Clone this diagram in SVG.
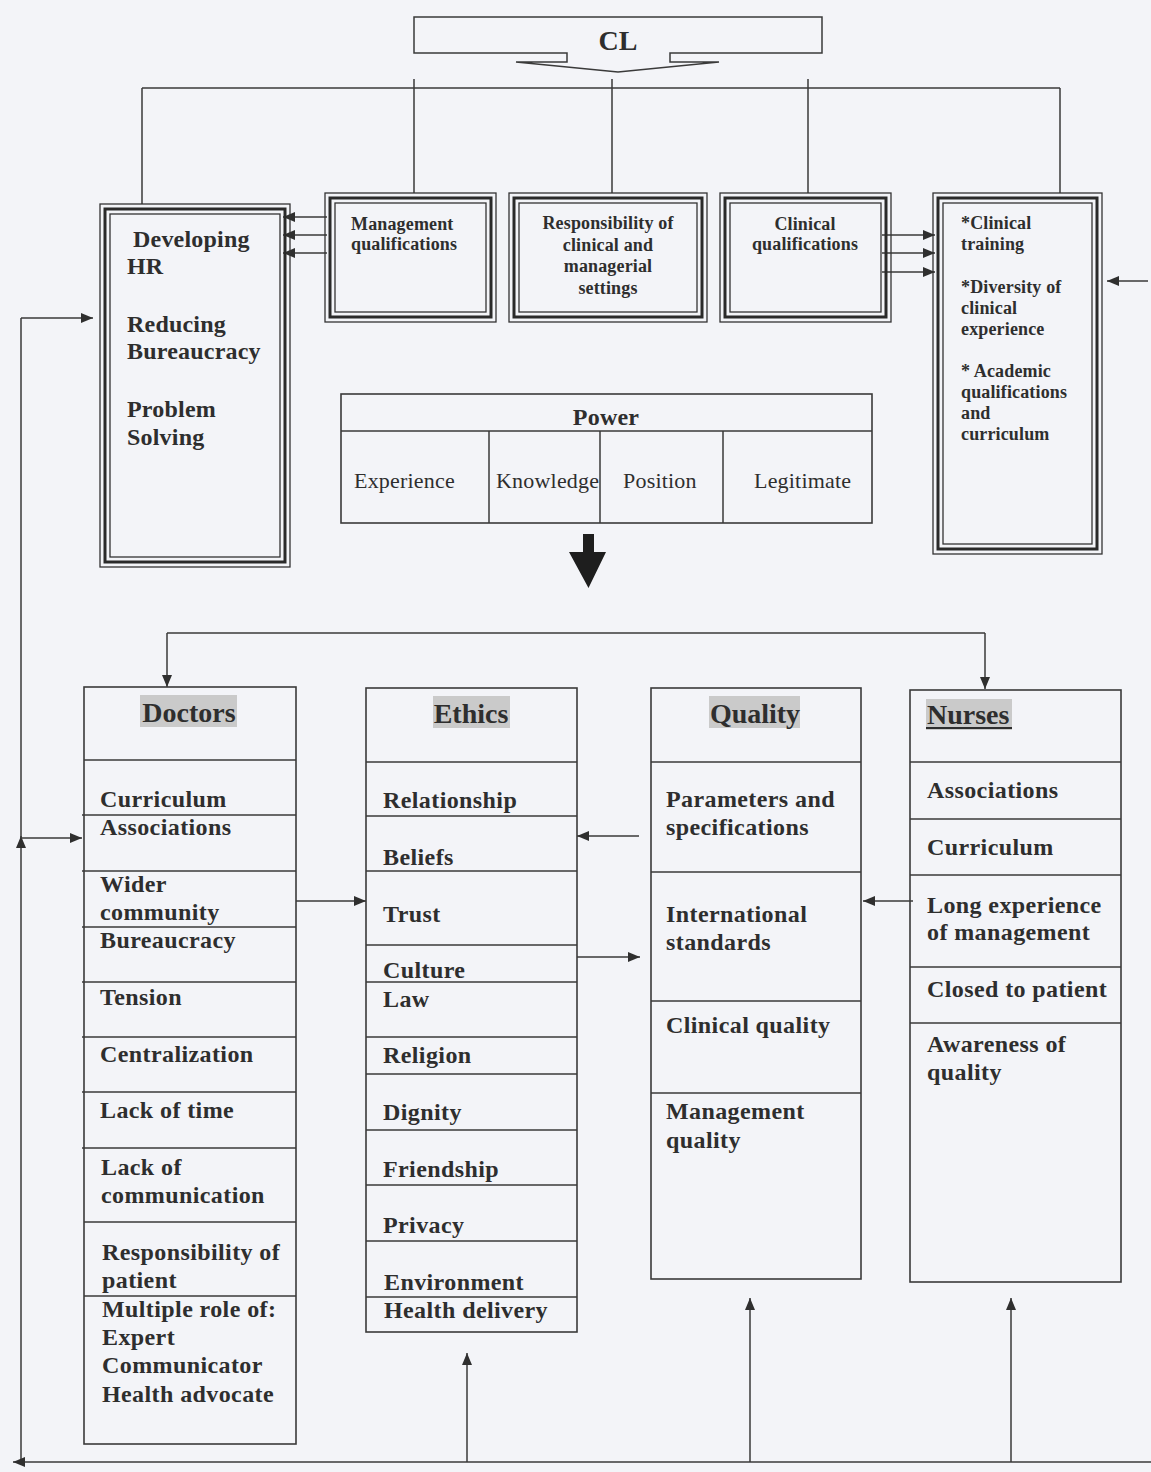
<svg xmlns="http://www.w3.org/2000/svg" width="1151" height="1472" viewBox="0 0 1151 1472">
<defs>
<marker id="ah" viewBox="0 0 12 10" refX="12" refY="5" markerWidth="12" markerHeight="10" markerUnits="userSpaceOnUse" orient="auto"><path d="M0,0 L12,5 L0,10 z" fill="#2f2f2f"/></marker>
<style>
.bg{fill:#f3f4f8}
.b1{fill:none;stroke:#333;stroke-width:1.3}
.b3{fill:none;stroke:#2a2a2a;stroke-width:3}
.box{fill:none;stroke:#3a3a3a;stroke-width:1.6}
.ln{fill:none;stroke:#3a3a3a;stroke-width:1.5}
.con{fill:none;stroke:#3a3a3a;stroke-width:1.5}
.arr{fill:none;stroke:#3a3a3a;stroke-width:1.5;marker-end:url(#ah)}
.hl{fill:#cacaca}
text{font-family:"Liberation Serif","Times New Roman",serif;fill:#2e2e2e}
.t24{font-size:24px;font-weight:bold;letter-spacing:0.2px}
.t23{font-size:24px;font-weight:bold;letter-spacing:0.4px}
.t18{font-size:18px;font-weight:bold;letter-spacing:0.15px}
.t22r{font-size:22px;letter-spacing:0.2px}
.hd{font-size:28px;font-weight:bold}
.mid{text-anchor:middle}
</style>
</defs>
<rect class="bg" x="0" y="0" width="1151" height="1472"/>

<g id="connectors">
<line class="con" x1="142" y1="88" x2="1060" y2="88"/>
<line class="con" x1="142" y1="88" x2="142" y2="204"/>
<line class="con" x1="414" y1="79" x2="414" y2="193"/>
<line class="con" x1="612" y1="79" x2="612" y2="193"/>
<line class="con" x1="808" y1="79" x2="808" y2="193"/>
<line class="con" x1="1060" y1="88" x2="1060" y2="193"/>
<line class="arr" x1="327" y1="217" x2="283" y2="217"/>
<line class="arr" x1="327" y1="235" x2="283" y2="235"/>
<line class="arr" x1="327" y1="253" x2="283" y2="253"/>
<line class="arr" x1="882" y1="235" x2="935" y2="235"/>
<line class="arr" x1="882" y1="253" x2="935" y2="253"/>
<line class="arr" x1="882" y1="272" x2="935" y2="272"/>
<line class="arr" x1="1148" y1="281" x2="1107" y2="281"/>
<path d="M583,534 L594,534 L594,552 L606,552 L588.5,588 L569,552 L583,552 Z" fill="#1e1e1e"/>
<polyline class="con" points="167,633 985,633"/>
<line class="arr" x1="167" y1="633" x2="167" y2="687"/>
<line class="arr" x1="985" y1="633" x2="985" y2="689"/>
<line class="arr" x1="21" y1="1462" x2="21" y2="836"/>
<polyline class="con" points="21,838 21,318"/>
<line class="arr" x1="21" y1="318" x2="93" y2="318"/>
<line class="arr" x1="21" y1="838" x2="82" y2="838"/>
<line class="arr" x1="1151" y1="1462" x2="13" y2="1462"/>
<line class="arr" x1="467" y1="1462" x2="467" y2="1353"/>
<line class="arr" x1="750" y1="1462" x2="750" y2="1298"/>
<line class="arr" x1="1011" y1="1462" x2="1011" y2="1298"/>
<line class="arr" x1="296" y1="901" x2="366" y2="901"/>
<line class="arr" x1="639" y1="836" x2="577" y2="836"/>
<line class="arr" x1="577" y1="957" x2="640" y2="957"/>
<line class="arr" x1="913" y1="901" x2="863" y2="901"/>
</g>

<g id="cl">
<path class="ln" d="M414,17 L822,17 L822,53 L670,53 L670,62 L719,62 L618,72 L516,62 L567,62 L567,53 L414,53 Z"/>
<text class="mid" x="618" y="50" style="font-size:28px;font-weight:bold">CL</text>
</g>

<g id="hr">
<rect class="b1" x="100" y="204" width="190" height="363"/>
<rect class="b3" x="105" y="209" width="180" height="353"/>
<rect class="b1" x="110" y="214" width="170" height="343"/>
<text class="t24" x="133" y="247">Developing</text>
<text class="t24" x="127" y="274">HR</text>
<text class="t24" x="127" y="332">Reducing</text>
<text class="t24" x="127" y="359">Bureaucracy</text>
<text class="t24" x="127" y="417">Problem</text>
<text class="t24" x="127" y="445">Solving</text>
</g>

<g id="management">
<rect class="b1" x="325" y="193" width="171" height="129"/>
<rect class="b3" x="330" y="198" width="161" height="119"/>
<rect class="b1" x="335" y="203" width="151" height="109"/>
<text class="t18" x="351" y="230">Management</text>
<text class="t18" x="351" y="250">qualifications</text>
</g>

<g id="responsibility">
<rect class="b1" x="509" y="193" width="198" height="129"/>
<rect class="b3" x="514" y="198" width="188" height="119"/>
<rect class="b1" x="519" y="203" width="178" height="109"/>
<text class="t18 mid" x="608" y="229">Responsibility of</text>
<text class="t18 mid" x="608" y="251">clinical and</text>
<text class="t18 mid" x="608" y="272">managerial</text>
<text class="t18 mid" x="608" y="294">settings</text>
</g>

<g id="clinical">
<rect class="b1" x="720" y="193" width="171" height="129"/>
<rect class="b3" x="725" y="198" width="161" height="119"/>
<rect class="b1" x="730" y="203" width="151" height="109"/>
<text class="t18 mid" x="805" y="230">Clinical</text>
<text class="t18 mid" x="805" y="250">qualifications</text>
</g>

<g id="training">
<rect class="b1" x="933" y="193" width="169" height="361"/>
<rect class="b3" x="938" y="198" width="159" height="351"/>
<rect class="b1" x="943" y="203" width="149" height="341"/>
<text class="t18" x="961" y="229">*Clinical</text>
<text class="t18" x="961" y="250">training</text>
<text class="t18" x="961" y="293">*Diversity of</text>
<text class="t18" x="961" y="314">clinical</text>
<text class="t18" x="961" y="335">experience</text>
<text class="t18" x="961" y="377">* Academic</text>
<text class="t18" x="961" y="398">qualifications</text>
<text class="t18" x="961" y="419">and</text>
<text class="t18" x="961" y="440">curriculum</text>
</g>

<g id="power">
<rect class="box" x="341" y="394" width="531" height="129"/>
<line class="ln" x1="341" y1="431" x2="872" y2="431"/>
<line class="ln" x1="489" y1="431" x2="489" y2="523"/>
<line class="ln" x1="600" y1="431" x2="600" y2="523"/>
<line class="ln" x1="723" y1="431" x2="723" y2="523"/>
<text class="t24 mid" x="606" y="425">Power</text>
<text class="t22r" x="354" y="488">Experience</text>
<text class="t22r" x="496" y="488">Knowledge</text>
<text class="t22r" x="623" y="488">Position</text>
<text class="t22r" x="754" y="488">Legitimate</text>
</g>

<g id="doctors">
<rect class="box" x="84" y="687" width="212" height="757"/>
<line class="ln" x1="84" y1="760" x2="296" y2="760"/>
<line class="ln" x1="82" y1="815" x2="296" y2="815"/>
<line class="ln" x1="82" y1="871" x2="296" y2="871"/>
<line class="ln" x1="82" y1="927" x2="296" y2="927"/>
<line class="ln" x1="82" y1="982" x2="296" y2="982"/>
<line class="ln" x1="82" y1="1037" x2="296" y2="1037"/>
<line class="ln" x1="82" y1="1092" x2="296" y2="1092"/>
<line class="ln" x1="82" y1="1148" x2="296" y2="1148"/>
<line class="ln" x1="84" y1="1222" x2="296" y2="1222"/>
<line class="ln" x1="84" y1="1296" x2="296" y2="1296"/>
<rect class="hl" x="140" y="695" width="97" height="32"/>
<text class="hd mid" x="189" y="722">Doctors</text>
<text class="t23" x="100" y="807">Curriculum</text>
<text class="t23" x="100" y="835">Associations</text>
<text class="t23" x="100" y="892">Wider</text>
<text class="t23" x="100" y="920">community</text>
<text class="t23" x="100" y="948">Bureaucracy</text>
<text class="t23" x="100" y="1005">Tension</text>
<text class="t23" x="100" y="1062">Centralization</text>
<text class="t23" x="100" y="1118">Lack of time</text>
<text class="t23" x="101" y="1175">Lack of</text>
<text class="t23" x="101" y="1203">communication</text>
<text class="t23" x="102" y="1260">Responsibility of</text>
<text class="t23" x="102" y="1288">patient</text>
<text class="t23" x="102" y="1317">Multiple role of:</text>
<text class="t23" x="102" y="1345">Expert</text>
<text class="t23" x="102" y="1373">Communicator</text>
<text class="t23" x="102" y="1402">Health advocate</text>
</g>

<g id="ethics">
<rect class="box" x="366" y="688" width="211" height="644"/>
<line class="ln" x1="366" y1="762" x2="577" y2="762"/>
<line class="ln" x1="366" y1="816" x2="577" y2="816"/>
<line class="ln" x1="366" y1="871" x2="577" y2="871"/>
<line class="ln" x1="366" y1="945" x2="577" y2="945"/>
<line class="ln" x1="366" y1="982" x2="577" y2="982"/>
<line class="ln" x1="366" y1="1037" x2="577" y2="1037"/>
<line class="ln" x1="366" y1="1074" x2="577" y2="1074"/>
<line class="ln" x1="366" y1="1130" x2="577" y2="1130"/>
<line class="ln" x1="366" y1="1185" x2="577" y2="1185"/>
<line class="ln" x1="366" y1="1241" x2="577" y2="1241"/>
<line class="ln" x1="366" y1="1297" x2="577" y2="1297"/>
<rect class="hl" x="433" y="696" width="77" height="32"/>
<text class="hd mid" x="471" y="723">Ethics</text>
<text class="t23" x="383" y="808">Relationship</text>
<text class="t23" x="383" y="865">Beliefs</text>
<text class="t23" x="383" y="922">Trust</text>
<text class="t23" x="383" y="978">Culture</text>
<text class="t23" x="383" y="1007">Law</text>
<text class="t23" x="383" y="1063">Religion</text>
<text class="t23" x="383" y="1120">Dignity</text>
<text class="t23" x="383" y="1177">Friendship</text>
<text class="t23" x="383" y="1233">Privacy</text>
<text class="t23" x="384" y="1290">Environment</text>
<text class="t23" x="384" y="1318">Health delivery</text>
</g>

<g id="quality">
<rect class="box" x="651" y="688" width="210" height="591"/>
<line class="ln" x1="651" y1="762" x2="861" y2="762"/>
<line class="ln" x1="651" y1="872" x2="861" y2="872"/>
<line class="ln" x1="651" y1="1001" x2="861" y2="1001"/>
<line class="ln" x1="651" y1="1093" x2="861" y2="1093"/>
<rect class="hl" x="709" y="696" width="91" height="32"/>
<text class="hd mid" x="755" y="723">Quality</text>
<text class="t23" x="666" y="807">Parameters and</text>
<text class="t23" x="666" y="835">specifications</text>
<text class="t23" x="666" y="922">International</text>
<text class="t23" x="666" y="950">standards</text>
<text class="t23" x="666" y="1033">Clinical quality</text>
<text class="t23" x="666" y="1119">Management</text>
<text class="t23" x="666" y="1148">quality</text>
</g>

<g id="nurses">
<rect class="box" x="910" y="690" width="211" height="592"/>
<line class="ln" x1="910" y1="762" x2="1121" y2="762"/>
<line class="ln" x1="910" y1="819" x2="1121" y2="819"/>
<line class="ln" x1="910" y1="875" x2="1121" y2="875"/>
<line class="ln" x1="910" y1="967" x2="1121" y2="967"/>
<line class="ln" x1="910" y1="1023" x2="1121" y2="1023"/>
<rect class="hl" x="926" y="699" width="86" height="31"/>
<text class="hd" x="927" y="724">Nurses</text>
<line x1="926" y1="728" x2="1012" y2="728" stroke="#2e2e2e" stroke-width="2"/>
<text class="t23" x="927" y="798">Associations</text>
<text class="t23" x="927" y="855">Curriculum</text>
<text class="t23" x="927" y="913">Long experience</text>
<text class="t23" x="927" y="940">of management</text>
<text class="t23" x="927" y="997">Closed to patient</text>
<text class="t23" x="927" y="1052">Awareness of</text>
<text class="t23" x="927" y="1080">quality</text>
</g>
</svg>
